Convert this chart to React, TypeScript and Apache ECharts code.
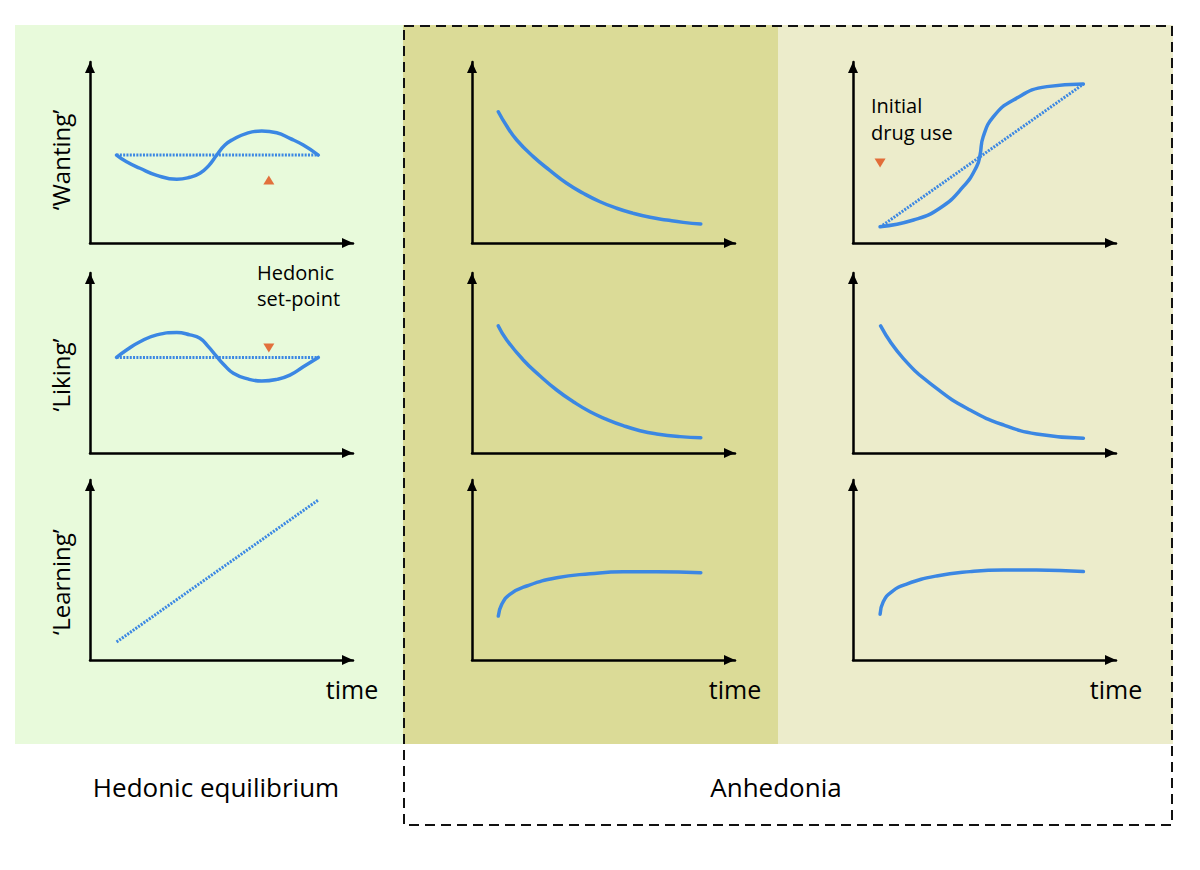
import React, { useEffect, useRef } from 'react';
import * as echarts from 'echarts';

// ---------- texts ----------
const ROW_NAMES = ['\u2018Wanting\u2019', '\u2018Liking\u2019', '\u2018Learning\u2019'];
const GROUP_LABELS = ['Hedonic equilibrium', 'Anhedonia'];
const TIME_LABEL = 'time';
const SETPOINT_LABEL = ['Hedonic', 'set-point'];
const DRUG_LABEL = ['Initial', 'drug use'];

// ---------- data (x: 0-100 time, y: 0-100 level) ----------
// Column 1: hedonic equilibrium
const eqWantX = [10.1, 13.9, 19.0, 25.4, 33.0, 38.0, 41.8, 45.0, 48.2, 51.3, 54.5, 59.6, 65.3, 71.0, 76.0, 81.1, 86.8];
const eqWantY = [48.6, 44.9, 41.3, 37.4, 35.2, 36.3, 38.5, 42.5, 48.6, 54.1, 57.3, 60.6, 61.9, 60.9, 57.8, 54.1, 48.6];
const eqWantBaseX = [10.1, 86.8];
const eqWantBaseY = [48.6, 48.6];

const eqLikeX = [10.1, 13.9, 19.0, 25.4, 33.0, 38.0, 41.8, 45.0, 48.2, 51.3, 54.5, 59.6, 65.3, 71.0, 76.0, 81.1, 86.8];
const eqLikeY = [53.1, 57.2, 61.8, 65.6, 66.9, 65.6, 63.7, 59.1, 53.5, 48.5, 44.3, 41.3, 40.0, 40.9, 43.3, 47.9, 53.1];
const eqLikeBaseX = [10.1, 86.8];
const eqLikeBaseY = [53.1, 53.1];

const eqLearnX = [10.1, 86.8];
const eqLearnY = [10.0, 88.9];

// Column 2: anhedonia
const anWantX = [10.0, 13.2, 17.0, 23.3, 29.7, 36.0, 42.3, 48.7, 55.0, 61.3, 67.7, 74.0, 80.3, 87.0];
const anWantY = [72.5, 64.6, 56.9, 47.7, 40.0, 33.0, 27.5, 22.8, 19.2, 16.4, 14.2, 12.7, 11.4, 10.5];

const anLikeX = [10.0, 13.2, 19.5, 25.9, 32.2, 38.5, 44.9, 51.2, 57.5, 63.9, 70.2, 79.1, 87.0];
const anLikeY = [70.6, 62.8, 51.7, 42.8, 35.0, 28.5, 22.9, 18.7, 15.2, 12.4, 10.6, 9.1, 8.5];

const anLearnX = [10.0, 11.3, 14.4, 20.8, 32.2, 44.9, 57.5, 70.2, 87.0];
const anLearnY = [24.4, 30.9, 36.5, 41.1, 45.7, 47.9, 49.0, 49.0, 48.5];

// Column 3: anhedonia after initial drug use
const drWantX = [10.3, 23.0, 33.0, 41.9, 47.0, 48.3, 49.5, 53.4, 61.0, 73.7, 87.6];
const drWantY = [9.0, 12.7, 19.2, 31.1, 42.2, 48.6, 58.7, 69.8, 79.0, 86.4, 87.8];
const drWantBaseX = [10.3, 87.6];
const drWantBaseY = [8.8, 87.8];

const drLikeX = [10.5, 19.1, 31.8, 44.5, 57.2, 69.8, 87.6];
const drLikeY = [70.6, 52.6, 35.9, 23.9, 15.6, 10.6, 8.2];

const drLearnX = [10.3, 11.5, 14.7, 20.4, 31.8, 44.5, 57.2, 69.8, 87.6];
const drLearnY = [25.4, 32.4, 37.9, 42.2, 46.7, 49.1, 50.0, 50.0, 49.1];

// markers (set-point / initial drug use)
const markerUp = [[68, 34.8]]; // panel 0
const markerDownSetPoint = [[68, 58.3]]; // panel 3
const markerDownDrug = [[10.3, 44.2]]; // panel 2

// ---------- layout ----------
const COL_LEFT = [90, 472, 853];
const COL_W = 263;
const ROW_TOP = [62, 273, 480];
const ROW_H = [181, 180, 180];

const BLUE = '#3b87e3';
const ORANGE = '#e04e14';
const FONT = '"Open Sans", "Noto Sans", sans-serif';

const zip = (xs: number[], ys: number[]) => xs.map((x, i) => [x, ys[i]]);

export default function App() {
  const ref = useRef<HTMLDivElement>(null);

  useEffect(() => {
    if (!ref.current) return;
    const chart = echarts.init(ref.current, undefined, { renderer: 'svg' });

    const grids: any[] = [];
    const xAxes: any[] = [];
    const yAxes: any[] = [];
    const axisLine = {
      show: true,
      lineStyle: { color: '#000', width: 2.5 },
      symbol: ['none', 'triangle'],
      symbolSize: [10, 11],
      symbolOffset: [0, -5.5],
    };
    for (let r = 0; r < 3; r++) {
      for (let c = 0; c < 3; c++) {
        const i = grids.length;
        grids.push({ left: COL_LEFT[c], top: ROW_TOP[r], width: COL_W, height: ROW_H[r] });
        xAxes.push({
          gridIndex: i, type: 'value', min: 0, max: 100,
          axisLine, axisTick: { show: false }, axisLabel: { show: false }, splitLine: { show: false },
        });
        yAxes.push({
          gridIndex: i, type: 'value', min: 0, max: 100,
          axisLine, axisTick: { show: false }, axisLabel: { show: false }, splitLine: { show: false },
        });
      }
    }

    const solid = (idx: number, data: number[][], name: string) => ({
      type: 'line', name, xAxisIndex: idx, yAxisIndex: idx, data,
      smooth: 0.5,
      showSymbol: false, symbol: 'none',
      lineStyle: { color: BLUE, width: 3.5, cap: 'round', join: 'round' }, z: 3,
    });
    const dotted = (idx: number, data: number[][], name: string) => ({
      type: 'line', name, xAxisIndex: idx, yAxisIndex: idx, data,
      showSymbol: false, symbol: 'none',
      lineStyle: { color: BLUE, width: 3, type: [2, 1.3], cap: 'butt' }, z: 3,
    });
    const marker = (idx: number, data: number[][], down: boolean) => ({
      type: 'scatter', xAxisIndex: idx, yAxisIndex: idx, data,
      symbol: 'triangle', symbolSize: [11, 9], symbolRotate: down ? 180 : 0,
      itemStyle: { color: ORANGE }, z: 4,
    });

    const series = [
      solid(0, zip(eqWantX, eqWantY), 'eq wanting'),
      dotted(0, zip(eqWantBaseX, eqWantBaseY), 'eq wanting base'),
      marker(0, markerUp, false),
      solid(1, zip(anWantX, anWantY), 'an wanting'),
      solid(2, zip(drWantX, drWantY), 'drug wanting'),
      dotted(2, zip(drWantBaseX, drWantBaseY), 'drug wanting base'),
      marker(2, markerDownDrug, true),
      solid(3, zip(eqLikeX, eqLikeY), 'eq liking'),
      dotted(3, zip(eqLikeBaseX, eqLikeBaseY), 'eq liking base'),
      marker(3, markerDownSetPoint, true),
      solid(4, zip(anLikeX, anLikeY), 'an liking'),
      solid(5, zip(drLikeX, drLikeY), 'drug liking'),
      dotted(6, zip(eqLearnX, eqLearnY), 'eq learning'),
      solid(7, zip(anLearnX, anLearnY), 'an learning'),
      solid(8, zip(drLearnX, drLearnY), 'drug learning'),
    ];

    const txt = (text: string, x: number, y: number, size: number, align = 'center', rotation = 0) => ({
      type: 'text', x, y, rotation, z: 100,
      style: { text, fontSize: size, fontFamily: FONT, fill: '#000', align, verticalAlign: 'middle' },
    });

    const graphic: any[] = [
      { type: 'rect', z: -10, shape: { x: 15, y: 25, width: 388, height: 719 }, style: { fill: '#e8fadb' } },
      { type: 'rect', z: -10, shape: { x: 403, y: 25, width: 375, height: 719 }, style: { fill: '#dbdb97' } },
      { type: 'rect', z: -10, shape: { x: 778, y: 25, width: 395, height: 719 }, style: { fill: '#ececcb' } },
      {
        type: 'rect', z: 50, shape: { x: 404, y: 26, width: 768, height: 799 },
        style: { fill: 'none', stroke: '#111', lineWidth: 2, lineDash: [10, 6] },
      },
      txt(ROW_NAMES[0], 60, 160, 24, 'center', Math.PI / 2),
      txt(ROW_NAMES[1], 60, 375, 24, 'center', Math.PI / 2),
      txt(ROW_NAMES[2], 60, 582, 24, 'center', Math.PI / 2),
      txt(TIME_LABEL, 352, 689, 25),
      txt(TIME_LABEL, 735, 689, 25),
      txt(TIME_LABEL, 1116, 689, 25),
      txt(SETPOINT_LABEL[0], 257, 272, 20, 'left'),
      txt(SETPOINT_LABEL[1], 257, 298, 20, 'left'),
      txt(DRUG_LABEL[0], 871, 105, 20, 'left'),
      txt(DRUG_LABEL[1], 871, 132, 20, 'left'),
      txt(GROUP_LABELS[0], 216, 787, 26),
      txt(GROUP_LABELS[1], 776, 787, 26),
    ];

    chart.setOption({
      animation: false,
      backgroundColor: '#ffffff',
      grid: grids,
      xAxis: xAxes,
      yAxis: yAxes,
      series,
      graphic,
    });

    return () => chart.dispose();
  }, []);

  return (
    <div
      ref={ref}
      style={{ position: 'absolute', left: 0, top: 0, width: 1200, height: 870 }}
    />
  );
}
